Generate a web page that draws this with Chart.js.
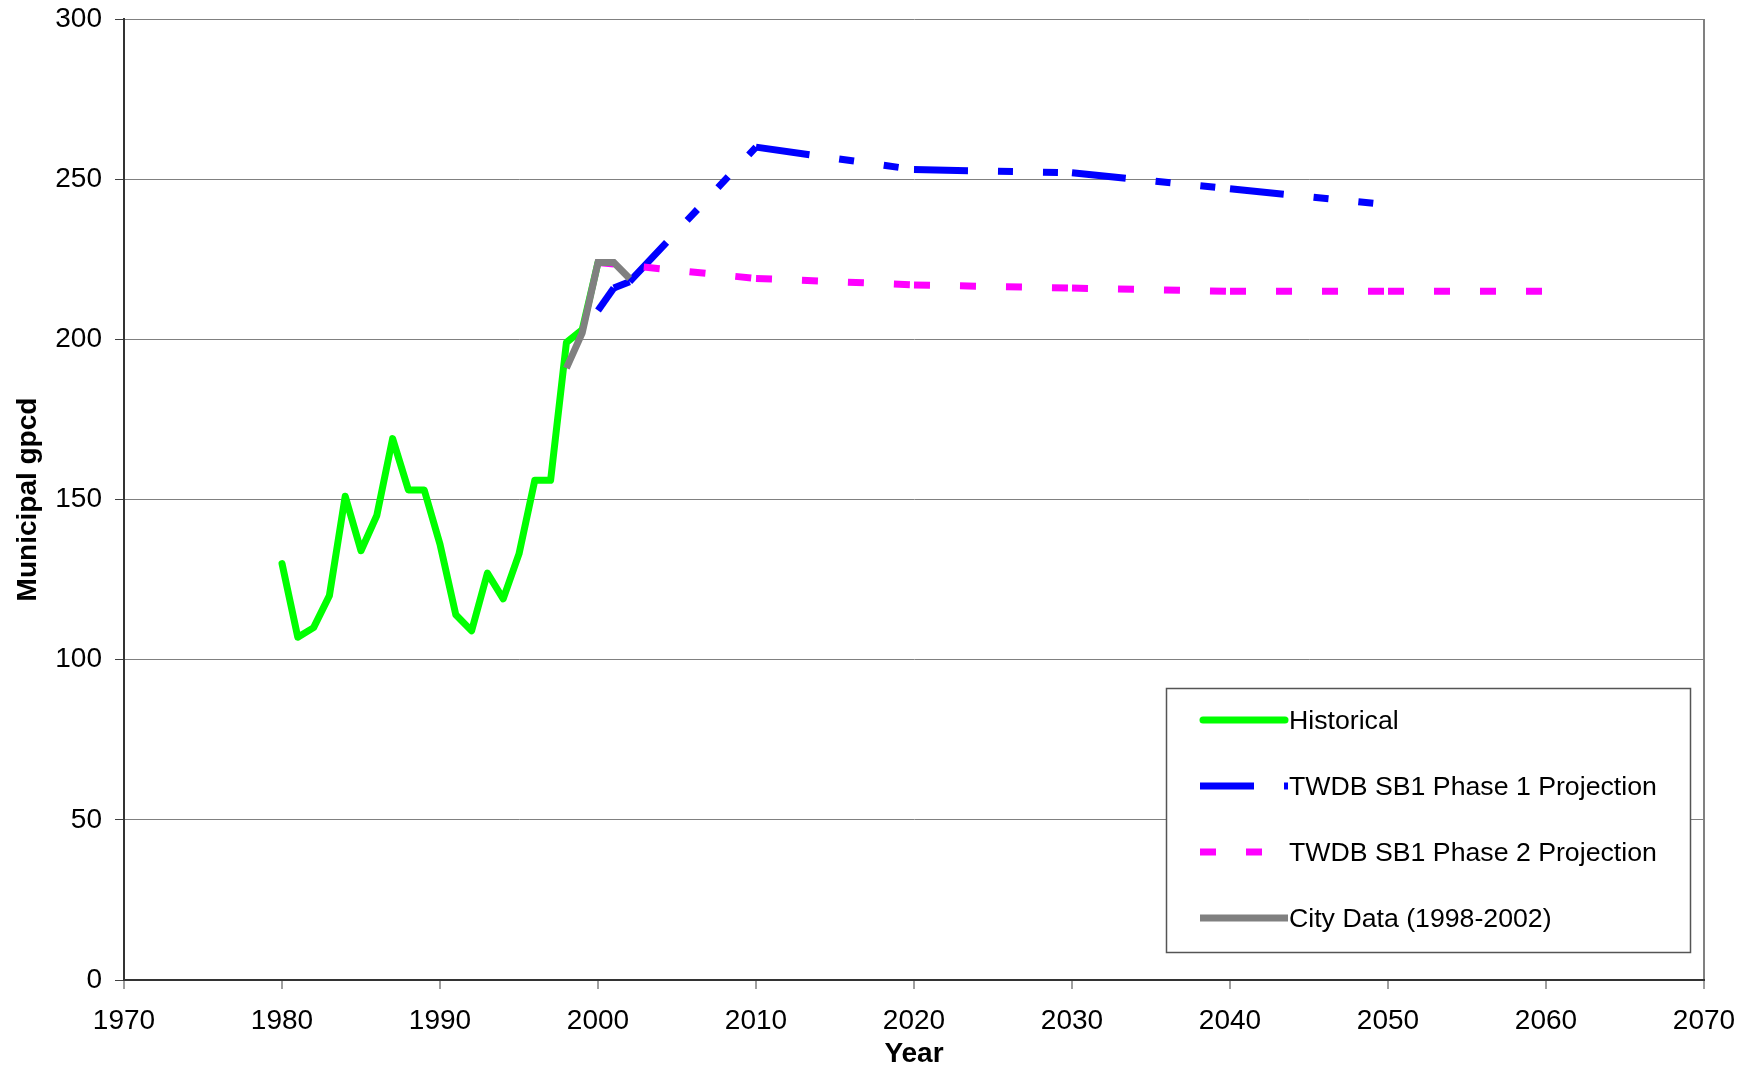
<!DOCTYPE html>
<html>
<head>
<meta charset="utf-8">
<script src="https://cdn.jsdelivr.net/npm/chart.js@4.4.1/dist/chart.umd.min.js"></script>
<style>
  html, body { margin: 0; padding: 0; background: #fff; }
  #wrap { width: 1758px; height: 1068px; }
</style>
</head>
<body>
<div id="wrap"><canvas id="gpcdChart" width="1758" height="1068"></canvas></div>
<script>
const historicalYears = [1980, 1981, 1982, 1983, 1984, 1985, 1986, 1987, 1988, 1989, 1990,
  1991, 1992, 1993, 1994, 1995, 1996, 1997, 1998, 1999, 2000];
const historicalGpcd = [130, 107, 110, 120, 151, 134, 145, 169, 153, 153, 136,
  114, 109, 127, 119, 133, 156, 156, 199, 203, 224];

const phase1Years = [2000, 2001, 2002, 2010, 2020, 2030, 2040, 2050];
const phase1Gpcd = [209, 216, 218, 260, 253, 252, 247, 242];

const phase2Years = [2000, 2010, 2020, 2030, 2040, 2050, 2060];
const phase2Gpcd = [224, 219, 217, 216, 215, 215, 215];

const cityYears = [1998, 1999, 2000, 2001, 2002];
const cityGpcd = [191, 202, 224, 224, 219];

const xTickYears = [1970, 1980, 1990, 2000, 2010, 2020, 2030, 2040, 2050, 2060, 2070];
const yTickValues = [0, 50, 100, 150, 200, 250, 300];

const seriesNames = ['Historical', 'TWDB SB1 Phase 1 Projection', 'TWDB SB1 Phase 2 Projection', 'City Data (1998-2002)'];

function toPoints(xs, ys) {
  return xs.map((x, i) => ({ x: x, y: ys[i] }));
}

// Excel restarts the dash pattern at every data point, so split the path per segment
const restartDash = {
  borderDashOffset: ctx => (ctx.p0DataIndex % 2 ? 0.0001 : 0)
};

const legendBox = {
  id: 'legendBox',
  afterDraw(chart) {
    const ctx = chart.ctx;
    const left = 1166, top = 688, right = 1690, bottom = 952;
    const rows = [720, 786, 852, 918];
    ctx.save();
    ctx.fillStyle = '#ffffff';
    ctx.fillRect(left, top, right - left, bottom - top);
    ctx.strokeStyle = '#555555';
    ctx.lineWidth = 1.5;
    ctx.strokeRect(left + 0.5, top + 0.5, right - left, bottom - top);

    chart.data.datasets.forEach((ds, i) => {
      const y = rows[i];
      ctx.beginPath();
      ctx.strokeStyle = ds.borderColor;
      ctx.lineWidth = ds.borderWidth;
      ctx.lineCap = ds.borderCapStyle || 'butt';
      ctx.setLineDash(ds.borderDash || []);
      const x0 = ds.borderCapStyle === 'round' ? 1203 : 1200;
      const x1 = ds.borderCapStyle === 'round' ? 1285 : 1288;
      ctx.moveTo(x0, y);
      ctx.lineTo(x1, y);
      ctx.stroke();
      ctx.setLineDash([]);

      ctx.fillStyle = '#000000';
      ctx.font = '26.7px "Liberation Sans", Arial, sans-serif';
      ctx.textAlign = 'left';
      ctx.textBaseline = 'middle';
      ctx.fillText(ds.label, 1289, y + 2);
    });
    ctx.restore();
  }
};

Chart.defaults.font.family = '"Liberation Sans", Arial, sans-serif';
Chart.defaults.color = '#000000';

new Chart(document.getElementById('gpcdChart'), {
  type: 'line',
  data: {
    datasets: [
      {
        label: seriesNames[0],
        data: toPoints(historicalYears, historicalGpcd),
        borderColor: '#00ff00',
        borderWidth: 7,
        borderCapStyle: 'round',
        borderJoinStyle: 'round',
        pointRadius: 0,
        tension: 0,
        order: 3
      },
      {
        label: seriesNames[1],
        data: toPoints(phase1Years, phase1Gpcd),
        borderColor: '#0000ff',
        borderWidth: 7,
        borderDash: [54, 30, 15, 30, 15, 30],
        borderCapStyle: 'butt',
        pointRadius: 0,
        tension: 0,
        segment: restartDash,
        order: 2
      },
      {
        label: seriesNames[2],
        data: toPoints(phase2Years, phase2Gpcd),
        borderColor: '#ff00ff',
        borderWidth: 7,
        borderDash: [16, 30],
        borderCapStyle: 'butt',
        pointRadius: 0,
        tension: 0,
        segment: restartDash,
        order: 1
      },
      {
        label: seriesNames[3],
        data: toPoints(cityYears, cityGpcd),
        borderColor: '#808080',
        borderWidth: 7,
        borderCapStyle: 'butt',
        borderJoinStyle: 'miter',
        pointRadius: 0,
        tension: 0,
        order: 0
      }
    ]
  },
  options: {
    responsive: false,
    animation: false,
    layout: { padding: { top: 19, right: 54, left: 0, bottom: 0 } },
    plugins: {
      legend: { display: false },
      tooltip: { enabled: false }
    },
    scales: {
      x: {
        type: 'linear',
        min: 1970,
        max: 2070,
        afterBuildTicks: scale => { scale.ticks = xTickYears.map(v => ({ value: v })); },
        afterFit: scale => { scale.height = 88; },
        ticks: {
          font: { size: 28 },
          color: '#000000',
          padding: 15,
          maxRotation: 0,
          autoSkip: false,
          callback: v => String(v)
        },
        grid: {
          drawOnChartArea: true,
          color: ctx => (ctx.index === xTickYears.length - 1 ? '#808080' : 'rgba(0,0,0,0)'),
          lineWidth: 2,
          tickColor: '#404040',
          tickLength: 9,
          tickWidth: 1
        },
        border: { color: '#333333', width: 2 },
        title: {
          display: true,
          text: 'Year',
          font: { size: 28, weight: 'bold', lineHeight: 1 },
          color: '#000000',
          padding: { top: 0, bottom: 0 }
        }
      },
      y: {
        min: 0,
        max: 300,
        afterBuildTicks: scale => { scale.ticks = yTickValues.map(v => ({ value: v })); },
        afterFit: scale => {
          scale.width = 124;
          scale.paddingTop = 0;
          scale.paddingBottom = 0;
        },
        ticks: {
          font: { size: 28 },
          color: '#000000',
          padding: 13
        },
        grid: {
          color: '#808080',
          lineWidth: 1,
          tickColor: '#404040',
          tickLength: 9
        },
        border: { color: '#333333', width: 2 },
        title: {
          display: true,
          text: 'Municipal gpcd',
          font: { size: 28, weight: 'bold', lineHeight: 1 },
          color: '#000000',
          padding: { top: 14, bottom: 0 }
        }
      }
    }
  },
  plugins: [legendBox]
});
</script>
</body>
</html>
